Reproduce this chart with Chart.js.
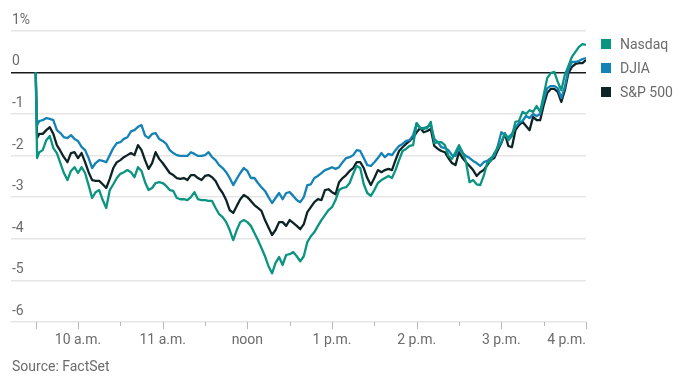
<!DOCTYPE html>
<html><head><meta charset="utf-8">
<script src="https://cdn.jsdelivr.net/npm/chart.js@4.4.0/dist/chart.umd.min.js"></script>
<style>
html,body{margin:0;padding:0;background:#fff;}
#wrap{position:relative;width:688px;height:386px;font-family:Roboto,"Liberation Sans",sans-serif;}
canvas{position:absolute;left:0;top:0;}
.legend{position:absolute;left:601px;top:31.5px;}
.item{display:flex;align-items:center;height:24.4px;font-size:14px;color:#6b6b6b;}
.sw{width:10px;height:10px;margin-right:9px;}
.source{position:absolute;left:12px;top:357px;font-size:14px;line-height:18px;color:#6b6b6b;}
</style></head>
<body>
<div id="wrap">
<canvas id="c" width="688" height="386"></canvas>
<div class="legend" id="legend"></div>
<div class="source">Source: FactSet</div>
</div>
<script>
// minutes after 9:30 a.m.
const times = [0,1,2.5,5,7.5,10,12.5,15,17.5,20,22.5,25,27.5,30,32.5,35,37.5,40,42.5,45,47.5,50,52.5,55,57.5,60,62.5,65,67.5,70,72.5,75,77.5,80,82.5,85,87.5,90,92.5,95,97.5,100,102.5,105,107.5,110,112.5,115,117.5,120,122.5,125,127.5,130,132.5,135,137.5,140,142.5,145,147.5,150,152.5,155,157.5,160,162.5,165,167.5,170,172.5,175,177.5,180,182.5,185,187.5,190,192.5,195,197.5,200,202.5,205,207.5,210,212.5,215,217.5,220,222.5,225,227.5,230,232.5,235,237.5,240,242.5,245,247.5,250,252.5,255,257.5,260,262.5,265,267.5,270,272.5,275,277.5,280,282.5,285,287.5,290,292.5,295,297.5,300,302.5,305,307.5,310,312.5,315,317.5,320,322.5,325,327.5,330,332.5,335,337.5,340,342.5,345,347.5,350,352.5,355,357.5,360,362.5,365,367.5,370,372.5,375,377.5,380,382.5,385,387.5,390];

const nasdaq = [0,-2.06,
-1.92,-1.87,-1.63,-1.53,-1.82,-1.94,-2.18,-2.42,-2.59,-2.37,-2.28,-2.42,-2.28,-2.42,-2.71,-3.02,-2.88,-2.83,-3.07,-3.26,
-2.83,-2.69,-2.54,-2.44,-2.40,-2.35,-2.40,-2.52,-2.28,-2.37,-2.64,-2.83,-2.78,-2.66,-2.64,-2.66,-2.73,-2.83,-2.85,-3.02,
-3.05,-3.05,-3.07,-3.00,-2.88,-3.05,-3.07,-3.07,-3.09,-3.09,-3.26,-3.41,-3.48,-3.60,-3.79,-4.03,-3.79,-3.60,-3.55,-3.60,
-3.69,-3.86,-4.03,-4.22,-4.42,-4.66,-4.83,-4.58,-4.44,-4.63,-4.39,-4.37,-4.32,-4.42,-4.54,-4.42,-4.08,-3.94,-3.84,-3.69,
-3.55,-3.43,-3.31,-3.24,-3.07,-2.83,-2.78,-2.76,-2.66,-2.44,-2.25,-2.30,-2.69,-2.90,-2.97,-2.83,-2.66,-2.59,-2.54,-2.49,
-2.54,-2.35,-2.11,-1.89,-1.84,-1.77,-1.75,-1.22,-1.34,-1.36,-1.34,-1.19,-1.70,-1.68,-1.68,-1.75,-2.01,-2.08,-1.92,-1.75,
-1.92,-2.16,-2.64,-2.59,-2.69,-2.71,-2.49,-2.18,-2.13,-1.94,-1.82,-1.68,-1.46,-1.63,-1.53,-1.19,-1.17,-0.95,-1.00,-0.91,
-0.95,-0.81,-0.95,-0.55,-0.14,-0.02,0.01,-0.23,-0.43,-0.06,0.15,0.37,0.49,0.61,0.68,0.66];

const djia = [0,-1.27,
-1.17,-1.15,-1.10,-1.12,-1.15,-1.39,-1.46,-1.56,-1.58,-1.51,-1.60,-1.65,-1.79,-1.87,-2.06,-2.30,-2.18,-2.11,-2.13,-2.16,
-1.99,-1.82,-1.70,-1.68,-1.60,-1.56,-1.42,-1.39,-1.31,-1.27,-1.52,-1.58,-1.48,-1.46,-1.60,-1.65,-1.72,-1.87,-1.94,-1.99,
-2.01,-2.01,-2.01,-1.92,-1.96,-2.01,-2.01,-1.99,-1.92,-2.04,-2.11,-2.23,-2.30,-2.40,-2.54,-2.71,-2.56,-2.42,-2.30,-2.37,
-2.54,-2.54,-2.66,-2.76,-2.85,-3.00,-3.14,-3.02,-2.90,-3.05,-2.90,-2.88,-2.97,-3.07,-3.12,-3.00,-2.71,-2.69,-2.54,-2.49,
-2.42,-2.35,-2.32,-2.28,-2.32,-2.28,-2.16,-2.06,-2.04,-1.99,-1.87,-1.89,-2.06,-2.23,-2.25,-2.16,-2.06,-1.94,-2.04,-1.96,
-1.99,-1.87,-1.77,-1.72,-1.65,-1.63,-1.51,-1.22,-1.34,-1.34,-1.31,-1.27,-1.60,-1.68,-1.80,-1.82,-1.87,-1.99,-2.01,-1.82,
-1.94,-2.01,-2.06,-2.13,-2.18,-2.25,-2.16,-2.13,-2.06,-2.01,-1.77,-1.44,-1.51,-1.56,-1.48,-1.32,-1.22,-1.17,-1.05,-1.10,
-1.00,-1.05,-1.00,-0.67,-0.38,-0.33,-0.33,-0.38,-0.62,-0.35,0.06,0.25,0.25,0.27,0.32,0.34];

const sp500 = [0,-1.58,
-1.48,-1.48,-1.39,-1.32,-1.48,-1.75,-1.89,-2.04,-2.16,-1.94,-1.92,-2.06,-1.94,-2.16,-2.40,-2.59,-2.61,-2.61,-2.69,-2.78,
-2.56,-2.30,-2.16,-2.11,-2.04,-1.99,-1.94,-1.99,-1.75,-1.87,-2.11,-2.32,-2.18,-1.92,-2.08,-2.18,-2.30,-2.42,-2.47,-2.54,
-2.56,-2.54,-2.59,-2.47,-2.47,-2.54,-2.59,-2.49,-2.47,-2.52,-2.61,-2.78,-2.90,-3.07,-3.31,-3.38,-3.21,-3.05,-2.95,-3.00,
-3.09,-3.19,-3.26,-3.33,-3.55,-3.73,-3.91,-3.79,-3.60,-3.60,-3.69,-3.55,-3.62,-3.69,-3.77,-3.65,-3.36,-3.24,-3.12,-3.05,
-3.07,-2.83,-2.81,-2.88,-2.93,-2.64,-2.54,-2.47,-2.37,-2.30,-2.16,-2.16,-2.30,-2.54,-2.71,-2.54,-2.35,-2.40,-2.35,-2.32,
-2.35,-2.11,-1.89,-1.80,-1.72,-1.65,-1.56,-1.44,-1.34,-1.44,-1.41,-1.36,-1.77,-1.84,-1.89,-1.92,-2.06,-2.18,-2.23,-1.92,
-2.06,-2.16,-2.25,-2.35,-2.49,-2.40,-2.35,-2.23,-2.11,-2.06,-1.87,-1.70,-1.48,-1.77,-1.80,-1.39,-1.27,-1.19,-1.29,-1.39,
-1.07,-1.15,-1.15,-0.79,-0.50,-0.40,-0.40,-0.47,-0.71,-0.43,-0.02,0.13,0.20,0.22,0.22,0.30];

const seriesNames = ['Nasdaq','DJIA','S&P 500'];
const seriesColors = ['#0b9480','#1482b5','#0d2426'];

const tickMinutes = [0,30,60,90,120,150,180,210,240,270,300,330,360,390];
const hourMinutes = [30,90,150,210,270,330,390];
const hourLabels = ['10 a.m.','11 a.m.','noon','1 p.m.','2 p.m.','3 p.m.','4 p.m.'];

const yTicks = [1,0,-1,-2,-3,-4,-5,-6];

const FONT = 'Roboto, "Liberation Sans", sans-serif';
const TXT = '#6b6b6b';

const lg = document.getElementById('legend');
seriesNames.forEach((n,i)=>{
  const d = document.createElement('div'); d.className='item';
  const s = document.createElement('span'); s.className='sw'; s.style.background=seriesColors[i];
  d.appendChild(s); d.appendChild(document.createTextNode(n)); lg.appendChild(d);
});

const xAxisPlugin = {
  id:'xAxisLabels',
  afterDraw(chart){
    const ctx = chart.ctx, xs = chart.scales.x, base = chart.chartArea.bottom;
    ctx.save();
    ctx.strokeStyle = '#b8b8b8'; ctx.lineWidth = 1;
    tickMinutes.forEach(m=>{
      const px = Math.round(xs.getPixelForValue(m)) + 0.5;
      const len = (m % 60 === 30 || m === 0) ? 7 : 4;
      ctx.beginPath(); ctx.moveTo(px, base); ctx.lineTo(px, base+len); ctx.stroke();
    });
    ctx.fillStyle = TXT; ctx.font = '14px ' + FONT; ctx.textBaseline = 'middle';
    hourMinutes.forEach((m,i)=>{
      const px = xs.getPixelForValue(m);
      ctx.textAlign = (i === hourMinutes.length-1) ? 'right' : 'center';
      ctx.fillText(hourLabels[i], px, base+18);
    });
    ctx.restore();
  }
};

const mk = (vals)=> times.map((t,i)=>({x:t,y:vals[i]}));
const ds = (i, vals)=>({label:seriesNames[i], data:mk(vals), borderColor:seriesColors[i], backgroundColor:seriesColors[i], borderWidth:2.3, pointRadius:0, tension:0, borderJoinStyle:'round'});

new Chart(document.getElementById('c'), {
  type:'line',
  data:{datasets:[ds(0,nasdaq), ds(1,djia), ds(2,sp500)]},
  options:{
    responsive:false, animation:false, devicePixelRatio:1,
    layout:{padding:{top:30.7, right:102, left:11, bottom:0}},
    plugins:{legend:{display:false}, tooltip:{enabled:false}},
    scales:{
      x:{type:'linear', min:-17.5, max:390,
         grid:{display:false, drawTicks:false}, border:{display:false},
         ticks:{display:false},
         afterFit:s=>{s.height=64;}},
      y:{min:-6, max:1,
         afterBuildTicks:s=>{s.ticks = yTicks.map(v=>({value:v}));},
         afterFit:s=>{s.width=0;},
         border:{display:false},
         grid:{drawTicks:false, color:c=> (c.tick && c.tick.value===0) ? '#1a1a1a' : '#e6e6e6', lineWidth:1.5},
         ticks:{mirror:true, padding:1, labelOffset:-10.5, color:TXT, font:{size:14, family:FONT},
                callback:v=> v===1 ? '1%' : String(v)}}
    }
  },
  plugins:[xAxisPlugin]
});
</script>
</body></html>
